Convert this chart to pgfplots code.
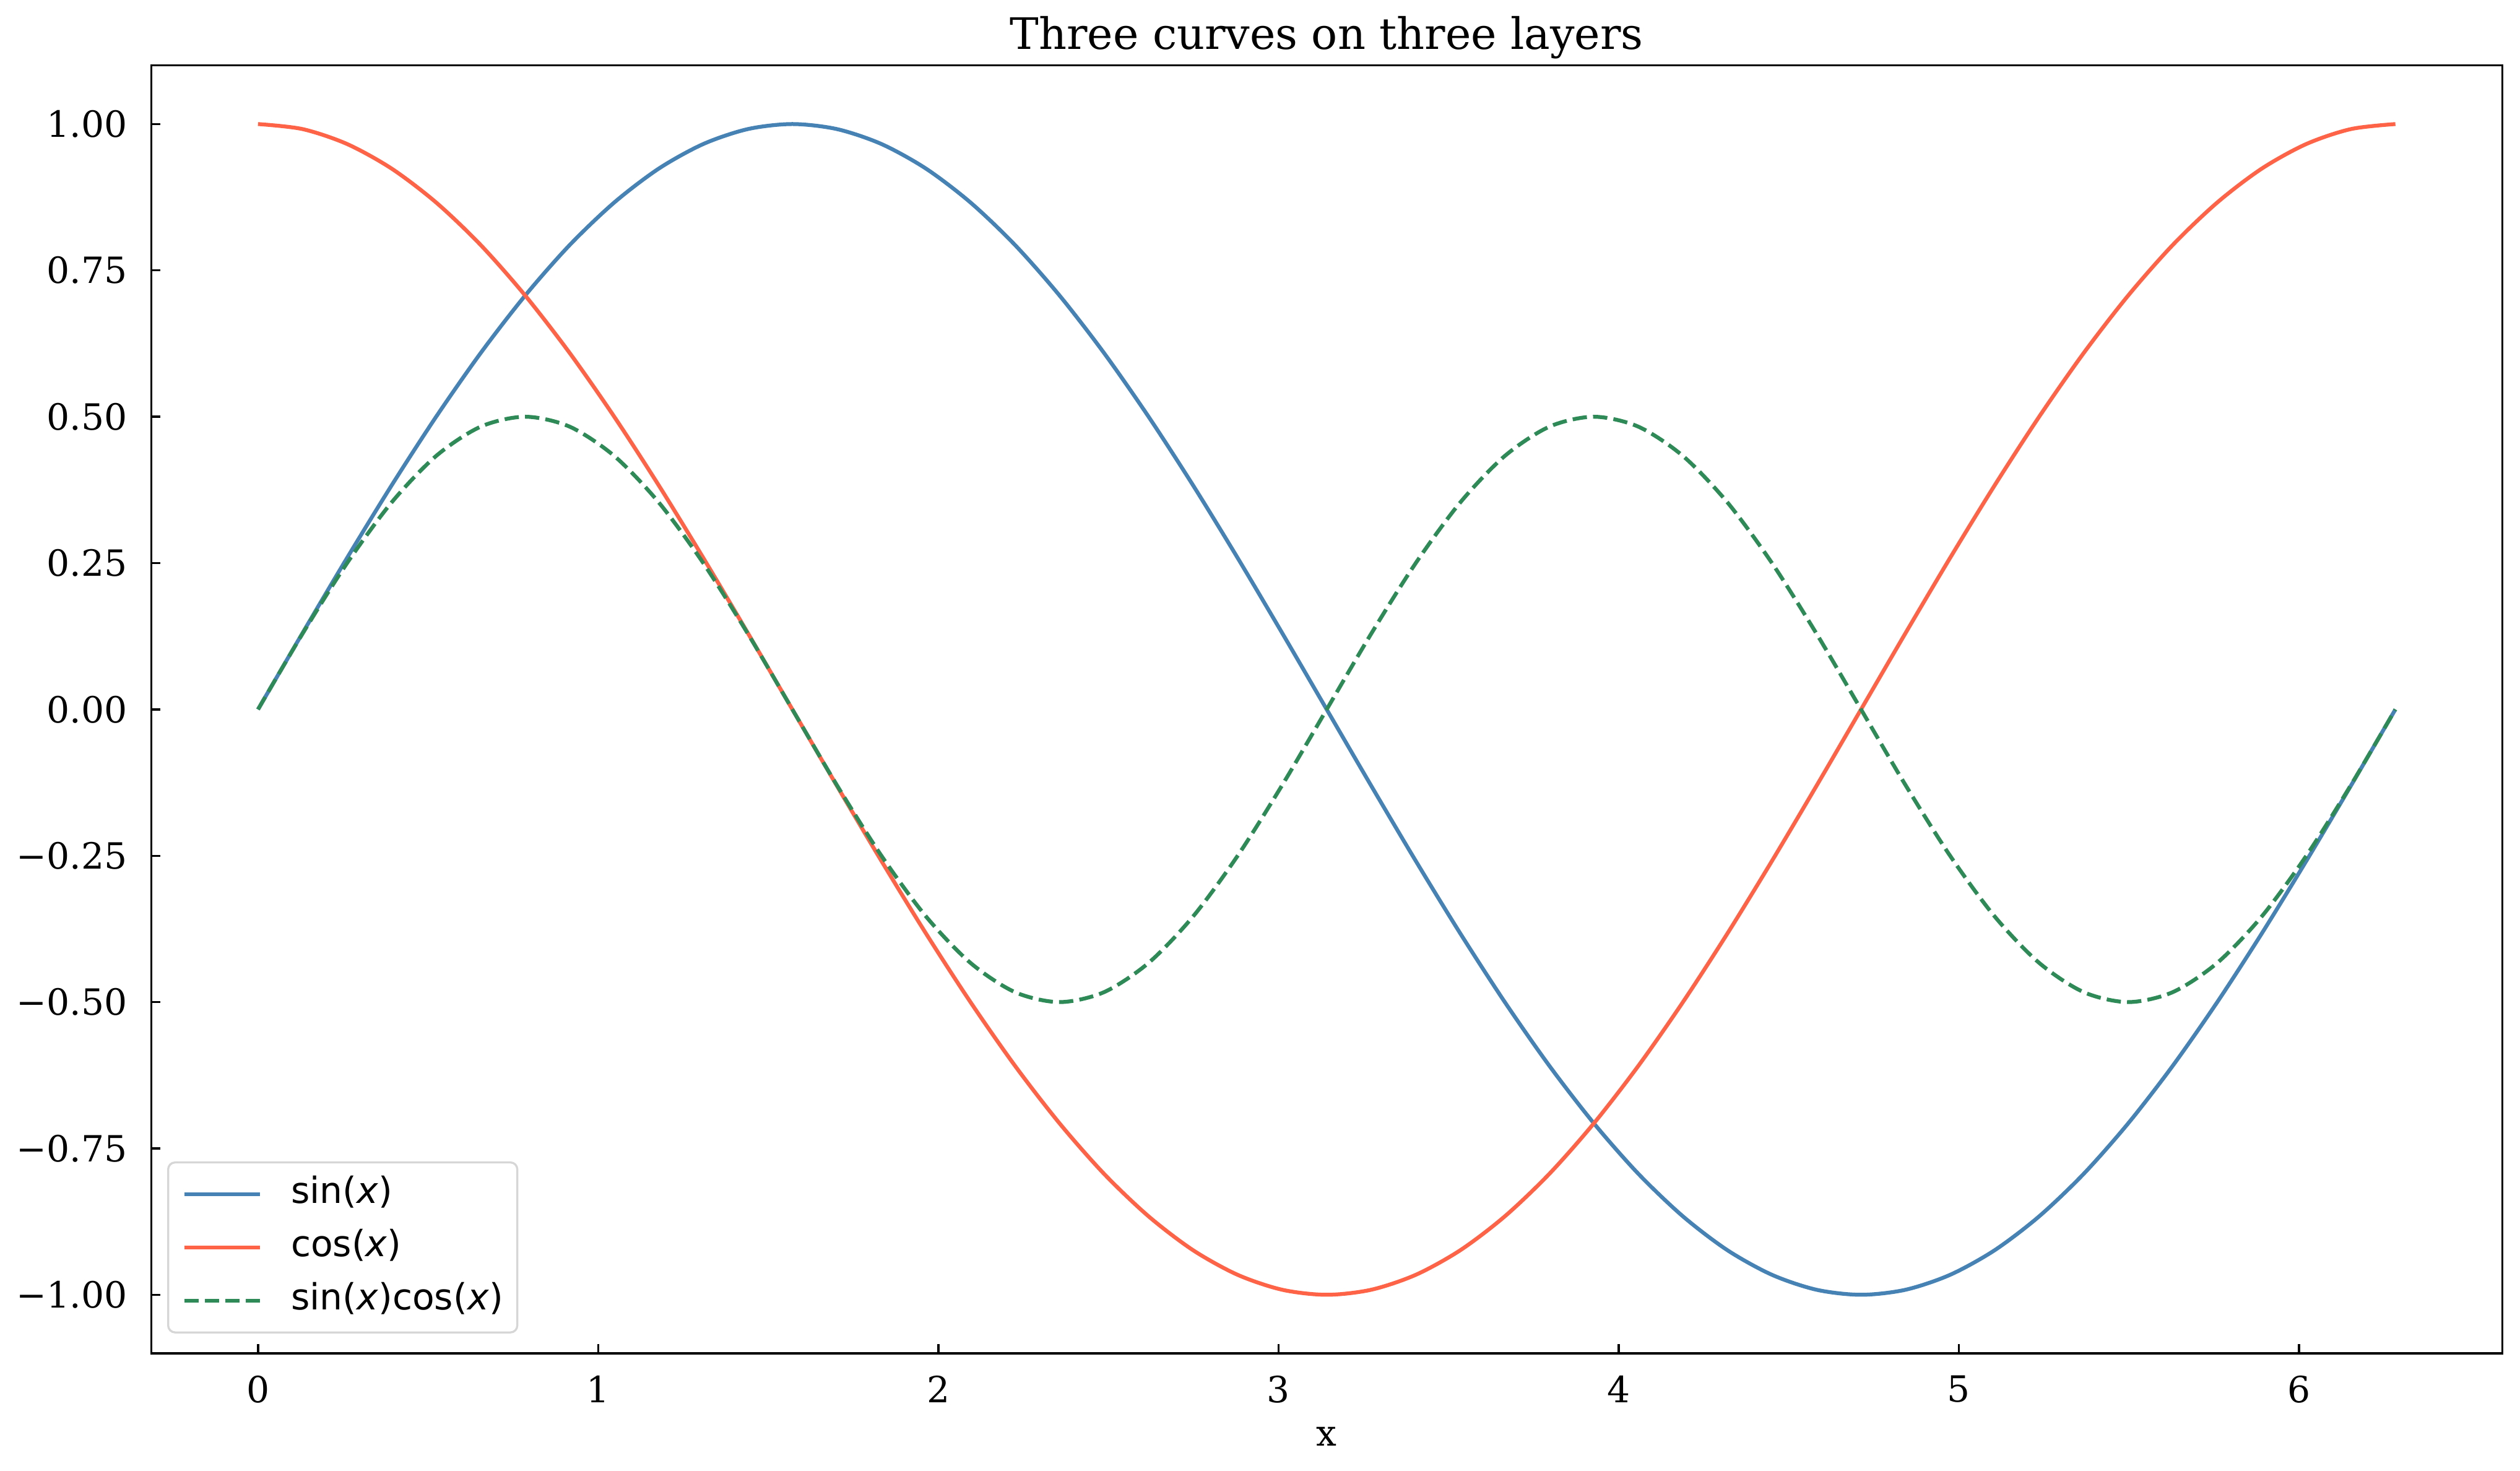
\documentclass[border=0pt]{standalone}
\usepackage{pgfplots}
\pgfplotsset{compat=1.18}
\usepackage{pgfplotstable}
\usepackage{fontspec}
\setmainfont{DejaVu Serif}
\newfontfamily\legendfont{DejaVu Sans}

\definecolor{sinblue}{RGB}{70,130,180}
\definecolor{costomato}{RGB}{255,99,71}
\definecolor{prodgreen}{RGB}{46,139,87}
\definecolor{legendedge}{RGB}{214,214,214}

% x, sin(x), cos(x), sin(x)cos(x)
\pgfplotstableread{
x      s       c       sc
0.0000  0.0000  1.0000  0.0000
0.1309  0.1305  0.9914  0.1294
0.2618  0.2588  0.9659  0.2500
0.3927  0.3827  0.9239  0.3536
0.5236  0.5000  0.8660  0.4330
0.6545  0.6088  0.7934  0.4830
0.7854  0.7071  0.7071  0.5000
0.9163  0.7934  0.6088  0.4830
1.0472  0.8660  0.5000  0.4330
1.1781  0.9239  0.3827  0.3536
1.3090  0.9659  0.2588  0.2500
1.4399  0.9914  0.1305  0.1294
1.5708  1.0000  0.0000  0.0000
1.7017  0.9914 -0.1305 -0.1294
1.8326  0.9659 -0.2588 -0.2500
1.9635  0.9239 -0.3827 -0.3536
2.0944  0.8660 -0.5000 -0.4330
2.2253  0.7934 -0.6088 -0.4830
2.3562  0.7071 -0.7071 -0.5000
2.4871  0.6088 -0.7934 -0.4830
2.6180  0.5000 -0.8660 -0.4330
2.7489  0.3827 -0.9239 -0.3536
2.8798  0.2588 -0.9659 -0.2500
3.0107  0.1305 -0.9914 -0.1294
3.1416  0.0000 -1.0000  0.0000
3.2725 -0.1305 -0.9914  0.1294
3.4034 -0.2588 -0.9659  0.2500
3.5343 -0.3827 -0.9239  0.3536
3.6652 -0.5000 -0.8660  0.4330
3.7961 -0.6088 -0.7934  0.4830
3.9270 -0.7071 -0.7071  0.5000
4.0579 -0.7934 -0.6088  0.4830
4.1888 -0.8660 -0.5000  0.4330
4.3197 -0.9239 -0.3827  0.3536
4.4506 -0.9659 -0.2588  0.2500
4.5815 -0.9914 -0.1305  0.1294
4.7124 -1.0000  0.0000  0.0000
4.8433 -0.9914  0.1305 -0.1294
4.9742 -0.9659  0.2588 -0.2500
5.1051 -0.9239  0.3827 -0.3536
5.2360 -0.8660  0.5000 -0.4330
5.3669 -0.7934  0.6088 -0.4830
5.4978 -0.7071  0.7071 -0.5000
5.6287 -0.6088  0.7934 -0.4830
5.7596 -0.5000  0.8660 -0.4330
5.8905 -0.3827  0.9239 -0.3536
6.0214 -0.2588  0.9659 -0.2500
6.1523 -0.1305  0.9914 -0.1294
6.2832  0.0000  1.0000  0.0000
}\curves

\begin{document}
\begin{tikzpicture}
\begin{axis}[
    scale only axis,
    width=911.5pt, height=499.2pt,
    xmin=-0.3142, xmax=6.5973,
    ymin=-1.1, ymax=1.1,
    xtick={0,1,2,3,4,5,6},
    ytick={-1,-0.75,-0.5,-0.25,0,0.25,0.5,0.75,1},
    yticklabels={−1.00,−0.75,−0.50,−0.25,0.00,0.25,0.50,0.75,1.00},
    xtick pos=bottom, ytick pos=left,
    tick align=inside,
    major tick length=3.5pt,
    every tick/.style={black, line width=0.8pt},
    axis line style={line width=0.8pt},
    /pgf/number format/assume math mode=true,
    tick label style={font=\fontsize{14}{16}\selectfont},
    xticklabel style={anchor=north, inner sep=0pt, yshift=-8.4pt},
    yticklabel style={anchor=east, inner sep=0pt, xshift=-9.1pt},
    title={Three curves on three layers},
    title style={font=\fontsize{16.8}{18}\selectfont, inner sep=0pt,
        at={(axis description cs:0.5,1)}, anchor=base, yshift=0.3pt},
    xlabel={x},
    xlabel style={font=\fontsize{14}{16}\selectfont, inner sep=0pt,
        at={(axis description cs:0.5,0)}, anchor=base, yshift=-35.8pt},
    legend image code/.code={\draw[#1] (0pt,0pt) -- (29.3pt,0pt);},
    legend style={
        at={(axis description cs:0,0)}, anchor=south west,
        xshift=6.2pt, yshift=7.7pt,
        draw=legendedge, line width=0.8pt, rounded corners=2.7pt,
        inner xsep=5.5pt, inner ysep=5.85pt,
        row sep=7.6pt,
        font=\legendfont\fontsize{14}{16}\selectfont,
        nodes={inner sep=0pt, text height=10pt, text depth=3pt},
        /tikz/every odd column/.append style={column sep=11.3pt},
    },
    legend cell align=left,
]
\addplot[color=sinblue, line width=1.5pt, smooth] table[x=x, y=s] {\curves};
\addlegendentry{sin(\textit{x})}
\addplot[color=costomato, line width=1.5pt, smooth] table[x=x, y=c] {\curves};
\addlegendentry{cos(\textit{x})}
\addplot[color=prodgreen, line width=1.5pt, smooth, dash pattern=on 5.55pt off 2.4pt] table[x=x, y=sc] {\curves};
\addlegendentry{sin(\textit{x})cos(\textit{x})}
\end{axis}
\pgfresetboundingbox
\useasboundingbox ([shift={(-58.6pt,-45.4pt)}]current axis.south west)
    rectangle ([shift={(6.9pt,25.4pt)}]current axis.north east);
\end{tikzpicture}
\end{document}
